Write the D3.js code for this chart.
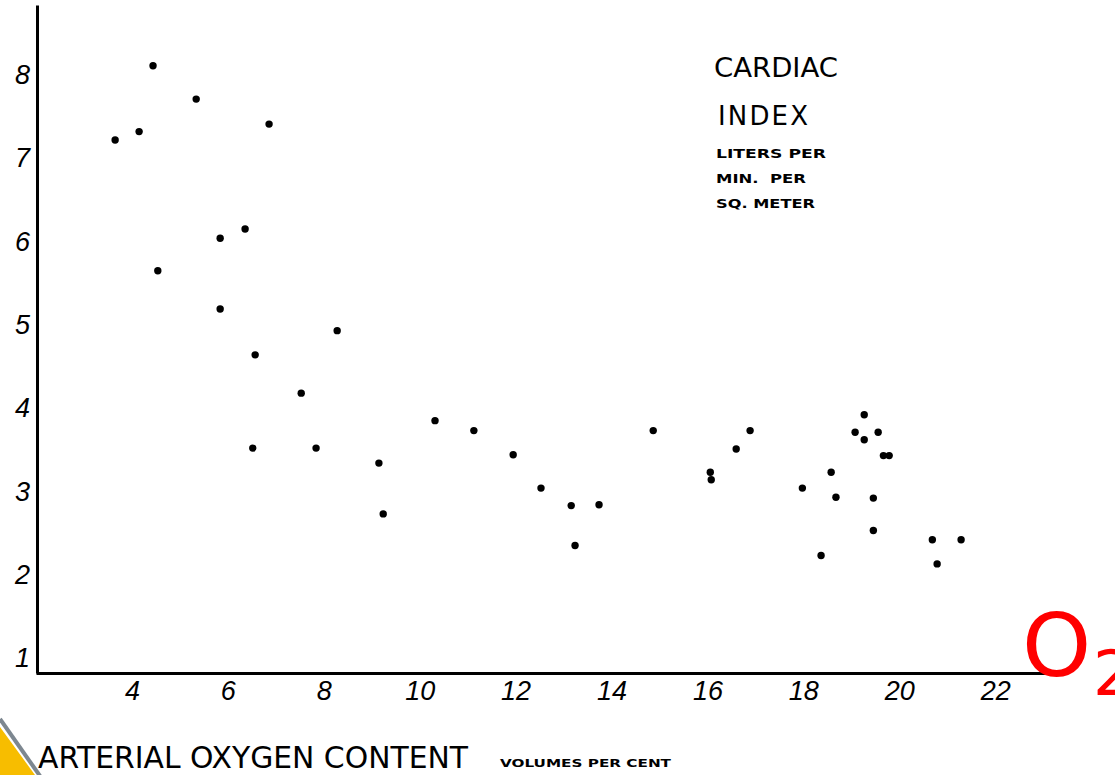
<!DOCTYPE html>
<html><head><meta charset="utf-8">
<script src="https://cdn.jsdelivr.net/npm/d3@7"></script>
<style>html,body{margin:0;padding:0;background:#fff;overflow:hidden}</style>
</head><body>
<svg id="chart" width="1115" height="775"></svg>
<script>
// Data: arterial oxygen content (vol %) vs cardiac index (L/min/m²)
const oxygen = [3.65,4.15,4.44,4.54,5.34,5.84,6.36,6.86,5.84,6.57,6.52,7.53,7.84,8.28,9.15,9.24,10.32,11.13,11.95,12.53,13.16,13.24,13.74,14.87,16.06,16.08,16.6,16.89,17.98,18.37,18.58,18.68,19.08,19.27,19.27,19.56,19.46,19.46,19.67,19.79,20.69,20.79,21.29];
const cardiacIndex = [7.22,7.32,8.11,5.65,7.71,6.04,6.15,7.41,5.19,4.64,3.52,4.18,3.52,4.93,3.34,2.73,3.85,3.73,3.44,3.04,2.83,2.35,2.84,3.73,3.23,3.14,3.51,3.73,3.04,2.23,3.23,2.93,3.71,3.92,3.62,3.71,2.92,2.53,3.43,3.43,2.42,2.13,2.42];
const xTicks = [4,6,8,10,12,14,16,18,20,22];
const yTicks = [1,2,3,4,5,6,7,8];
const titleLines = ["CARDIAC","INDEX"];
const unitLines = ["LITERS PER","MIN.  PER","SQ. METER"];
const xTitle = "ARTERIAL OXYGEN CONTENT";
const xUnit = "VOLUMES PER CENT";

const svg = d3.select("#chart");
const x = d3.scaleLinear().domain([2, 23.06]).range([36, 1046]);
const y = d3.scaleLinear().domain([0.82, 8.84]).range([673, 5]);

// corner decoration
svg.append("polygon").attr("points","0,727 35,775 0,775").attr("fill","#f7bd00");
svg.append("line").attr("x1",0).attr("y1",719).attr("x2",40).attr("y2",776)
  .attr("stroke","#7d8790").attr("stroke-width",4);

const numFont = "'Liberation Sans', sans-serif";

const xAxis = svg.append("g").attr("transform","translate(0,673)")
  .call(d3.axisBottom(x).tickValues(xTicks).tickSize(0).tickPadding(8).tickFormat(d3.format("d")));
xAxis.select(".domain").attr("stroke","#000").attr("stroke-width",3);
xAxis.selectAll("text").attr("font-family",numFont).attr("font-style","italic")
  .attr("font-size",27).attr("fill","#000");

const yAxis = svg.append("g").attr("transform","translate(37,0)")
  .call(d3.axisLeft(y).tickValues(yTicks).tickSize(0).tickPadding(7).tickFormat(d3.format("d")));
yAxis.select(".domain").attr("stroke","#000").attr("stroke-width",3);
yAxis.selectAll("text").attr("font-family",numFont).attr("font-style","italic")
  .attr("font-size",27).attr("fill","#000");

// points
svg.append("g").selectAll("circle").data(oxygen).join("circle")
  .attr("cx",(d)=>x(d)).attr("cy",(d,i)=>y(cardiacIndex[i])).attr("r",3.7).attr("fill","#000");

// title block
const tf = "'DejaVu Sans', sans-serif";
svg.append("text").attr("x",714).attr("y",77).attr("font-family",tf).attr("font-size",26)
  .attr("textLength",124).attr("lengthAdjust","spacingAndGlyphs").text(titleLines[0]);
svg.append("text").attr("x",718).attr("y",125).attr("font-family",tf).attr("font-size",26)
  .attr("textLength",90).attr("lengthAdjust","spacing").text(titleLines[1]);
const uw = [110, 90, 99];
unitLines.forEach((t,i)=>{
  svg.append("text").attr("x",716).attr("y",158+i*25).attr("font-family",tf).attr("font-weight","bold")
    .attr("font-size",13).attr("textLength",uw[i]).attr("lengthAdjust","spacingAndGlyphs")
    .attr("xml:space","preserve").style("white-space","pre").text(t);
});

// x title
svg.append("text").attr("x",38).attr("y",768).attr("font-family",tf).attr("font-size",30)
  .attr("textLength",430).attr("lengthAdjust","spacingAndGlyphs").text(xTitle);
svg.append("text").attr("x",500).attr("y",767).attr("font-family",tf).attr("font-weight","bold")
  .attr("font-size",11).attr("textLength",171).attr("lengthAdjust","spacingAndGlyphs").text(xUnit);

// red O2 annotation
svg.append("text").attr("x",1022).attr("y",676).attr("font-family",tf).attr("font-size",88)
  .attr("fill","#f00").text("O");
svg.append("text").attr("x",1093).attr("y",695).attr("font-family",tf).attr("font-size",63)
  .attr("fill","#f00").text("2");
</script>
</body></html>
